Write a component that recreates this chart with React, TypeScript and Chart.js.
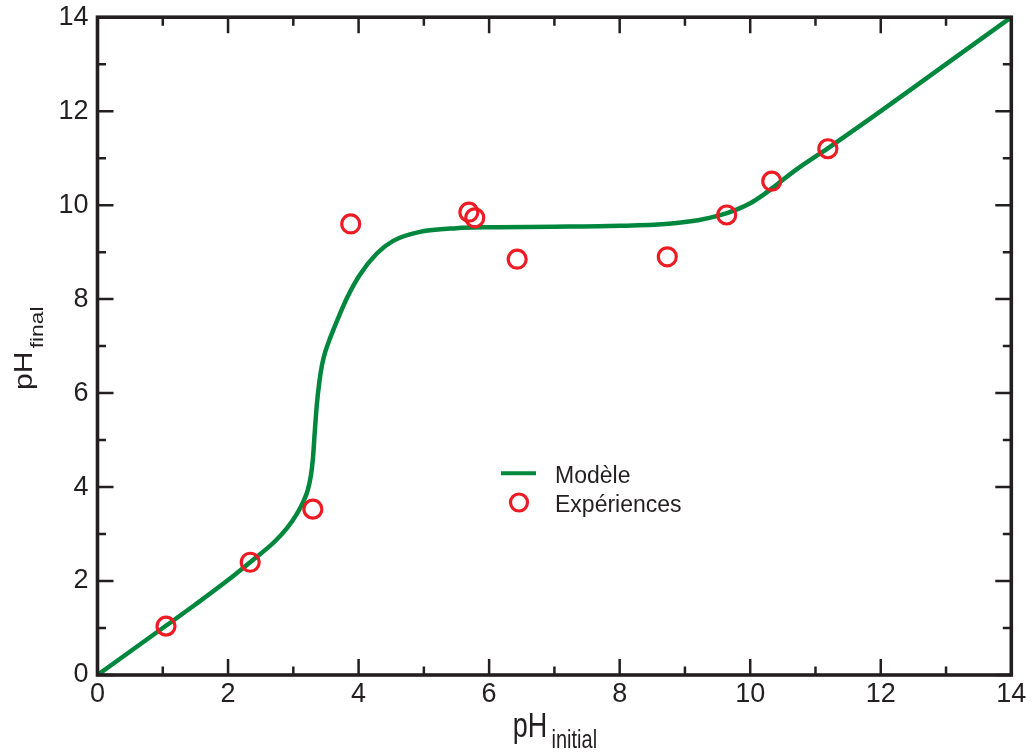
import React, { useEffect, useRef } from "react";
import { Chart, registerables } from "chart.js";

Chart.register(...registerables);

// Model curve (pH_initial -> pH_final)
const modelX = [0, 0.5, 1.0, 1.5, 2.0, 2.4, 2.7, 2.9, 3.05, 3.15, 3.22, 3.27, 3.30, 3.33, 3.36, 3.40, 3.44, 3.49, 3.55, 3.62, 3.70, 3.82, 4.02, 4.28, 4.53, 4.94, 5.5, 6.0, 7.0, 8.0, 8.7, 9.2, 9.5, 9.8, 10.0, 10.2, 10.4, 10.7, 11.2, 12.0, 13.0, 14.0];
const modelY = [0, 0.5, 1.0, 1.5, 2.02, 2.47, 2.82, 3.12, 3.42, 3.68, 3.93, 4.25, 4.6, 5.2, 5.75, 6.25, 6.6, 6.88, 7.12, 7.37, 7.64, 8.02, 8.52, 8.97, 9.24, 9.43, 9.51, 9.53, 9.54, 9.56, 9.6, 9.68, 9.77, 9.91, 10.04, 10.22, 10.43, 10.75, 11.22, 12.0, 13.0, 14.0];

// Experimental points
const expX = [1.05, 2.34, 3.30, 3.88, 5.69, 5.78, 6.43, 8.73, 9.64, 10.33, 11.19];
const expY = [1.04, 2.40, 3.53, 9.60, 9.85, 9.73, 8.85, 8.90, 9.79, 10.51, 11.20];

const xTicks = [0, 2, 4, 6, 8, 10, 12, 14];
const yTicks = [0, 2, 4, 6, 8, 10, 12, 14];
const minorTicks = [1, 3, 5, 7, 9, 11, 13];

const legendLabels = ["Modèle", "Expériences"];

const GREEN = "#00873e";
const RED = "#ed1c24";
const INK = "#231f20";
const FONT = "'Liberation Sans', Arial, sans-serif";

const framePlugin = {
  id: "frameTicksTitles",
  afterDraw(chart: any) {
    const { ctx, chartArea, scales } = chart;
    const xs = scales.x;
    const ys = scales.y;
    const { left, right, top, bottom } = chartArea;
    ctx.save();
    ctx.strokeStyle = INK;
    ctx.lineCap = "butt";
    ctx.lineWidth = 2.5;
    const drawXT = (v: number, len: number) => {
      const px = xs.getPixelForValue(v);
      ctx.beginPath();
      ctx.moveTo(px, bottom);
      ctx.lineTo(px, bottom - len);
      ctx.moveTo(px, top);
      ctx.lineTo(px, top + len);
      ctx.stroke();
    };
    const drawYT = (v: number, len: number) => {
      const py = ys.getPixelForValue(v);
      ctx.beginPath();
      ctx.moveTo(left, py);
      ctx.lineTo(left + len, py);
      ctx.moveTo(right, py);
      ctx.lineTo(right - len, py);
      ctx.stroke();
    };
    xTicks.forEach((v) => drawXT(v, 16));
    minorTicks.forEach((v) => drawXT(v, 8.5));
    yTicks.forEach((v) => drawYT(v, 16));
    minorTicks.forEach((v) => drawYT(v, 8.5));
    ctx.lineWidth = 3.6;
    ctx.lineJoin = "miter";
    ctx.strokeRect(left, top, right - left, bottom - top);

    // x title: pH_initial
    ctx.fillStyle = INK;
    ctx.textBaseline = "alphabetic";
    ctx.textAlign = "left";
    ctx.save();
    ctx.translate(512.7, 736.7);
    ctx.scale(1, 1.28);
    ctx.font = `27px ${FONT}`;
    ctx.fillText("pH", 0, 0);
    ctx.restore();
    ctx.save();
    ctx.translate(551.5, 748.3);
    ctx.scale(1, 1.25);
    ctx.font = `20px ${FONT}`;
    ctx.fillText("initial", 0, 0);
    ctx.restore();

    // y title: pH_final (rotated)
    ctx.save();
    ctx.translate(31.7, 390);
    ctx.rotate(-Math.PI / 2);
    ctx.scale(1.13, 1);
    ctx.font = `26.5px ${FONT}`;
    ctx.fillText("pH", 0, 0);
    ctx.restore();
    ctx.save();
    ctx.translate(43, 348.3);
    ctx.rotate(-Math.PI / 2);
    ctx.scale(1.3, 1);
    ctx.font = `17.5px ${FONT}`;
    ctx.fillText("final", 0, 0);
    ctx.restore();

    // legend
    ctx.strokeStyle = GREEN;
    ctx.lineWidth = 4;
    ctx.beginPath();
    ctx.moveTo(501, 473.3);
    ctx.lineTo(536, 473.3);
    ctx.stroke();
    ctx.strokeStyle = RED;
    ctx.lineWidth = 3.2;
    ctx.beginPath();
    ctx.arc(519, 502.5, 8.5, 0, Math.PI * 2);
    ctx.stroke();
    ctx.fillStyle = INK;
    ctx.font = `23px ${FONT}`;
    ctx.fillText(legendLabels[0], 555, 482.7);
    ctx.fillText(legendLabels[1], 555, 511.7);
    ctx.restore();
  },
};

export default function App() {
  const canvasRef = useRef<HTMLCanvasElement | null>(null);

  useEffect(() => {
    if (!canvasRef.current) return;
    const chart = new Chart(canvasRef.current, {
      type: "scatter",
      data: {
        datasets: [
          {
            label: legendLabels[1],
            data: expX.map((x, i) => ({ x, y: expY[i] })),
            showLine: false,
            pointRadius: 9,
            pointBorderWidth: 3.2,
            pointBorderColor: RED,
            pointBackgroundColor: "rgba(0,0,0,0)",
            borderColor: RED,
            backgroundColor: "rgba(0,0,0,0)",
            order: 0,
          },
          {
            label: legendLabels[0],
            data: modelX.map((x, i) => ({ x, y: modelY[i] })),
            showLine: true,
            borderColor: GREEN,
            borderWidth: 4.5,
            pointRadius: 0,
            cubicInterpolationMode: "monotone",
            fill: false,
            order: 1,
          } as any,
        ],
      },
      options: {
        responsive: false,
        animation: false,
        layout: { padding: { left: 0, top: 17.2, right: 21.7, bottom: 0 } },
        plugins: {
          legend: { display: false },
          tooltip: { enabled: false },
        },
        scales: {
          x: {
            type: "linear",
            min: 0,
            max: 14,
            afterFit: (s: any) => {
              s.height = 79;
              s.paddingLeft = 0;
              s.paddingRight = 0;
            },
            afterBuildTicks: (s: any) => {
              s.ticks = xTicks.map((v) => ({ value: v }));
            },
            grid: { display: false, drawTicks: false },
            border: { display: false },
            ticks: {
              padding: 3,
              color: INK,
              font: { family: FONT, size: 27 },
              maxRotation: 0,
            },
          },
          y: {
            type: "linear",
            min: 0,
            max: 14,
            afterFit: (s: any) => {
              s.width = 97.5;
              s.paddingTop = 0;
              s.paddingBottom = 0;
            },
            afterBuildTicks: (s: any) => {
              s.ticks = yTicks.map((v) => ({ value: v }));
            },
            grid: { display: false, drawTicks: false },
            border: { display: false },
            ticks: {
              padding: 9,
              color: INK,
              font: { family: FONT, size: 27 },
            },
          },
        },
      },
      plugins: [framePlugin],
    });
    return () => chart.destroy();
  }, []);

  return (
    <div style={{ position: "absolute", left: 0, top: 0, width: 1033, height: 754, background: "#fff" }}>
      <canvas ref={canvasRef} width={1033} height={754} style={{ display: "block" }} />
    </div>
  );
}
